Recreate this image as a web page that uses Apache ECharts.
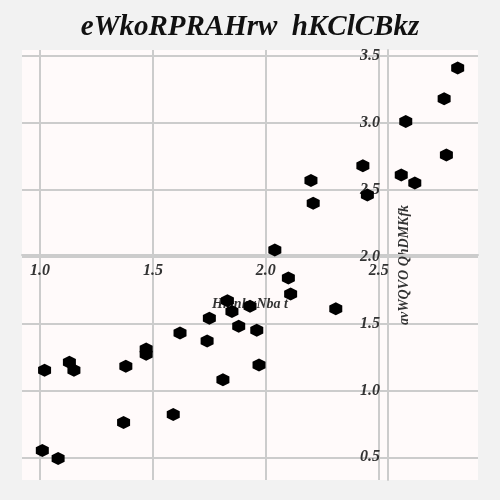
<!DOCTYPE html><html><head><meta charset="utf-8"><script src="https://cdn.jsdelivr.net/npm/echarts@6/dist/echarts.min.js"></script></head><body style="margin:0"><div id="c" style="width:500px;height:500px"></div><script>
const xs=[2.85,2.62,2.79,2.80,2.60,2.66,2.43,2.45,2.20,2.21,2.04,2.10,2.11,2.31,1.83,1.93,1.85,1.75,1.62,1.88,1.96,1.74,1.47,1.47,1.13,1.15,1.02,1.38,1.97,1.81,1.37,1.59,1.01,1.08];
const ys=[3.41,3.01,3.18,2.76,2.61,2.55,2.68,2.46,2.57,2.40,2.05,1.84,1.72,1.61,1.67,1.63,1.59,1.54,1.43,1.48,1.45,1.37,1.31,1.27,1.21,1.15,1.15,1.18,1.19,1.08,0.76,0.82,0.55,0.49];
const xTicks=[1.0,1.5,2.0,2.5], yTicks=[0.5,1.0,1.5,2.0,2.5,3.0,3.5];
const title="eWkoRPRAHrw  hKClCBkz", xName="HmnhxNba t", yName="avWQVO QhDMKfk";
const f={fontFamily:'Liberation Serif',fontWeight:'bold',fontStyle:'italic',color:'#333'};
const hex='path://M0,-1L0.866,-0.5L0.866,0.5L0,1L-0.866,0.5L-0.866,-0.5Z';
const ch=echarts.init(document.getElementById('c'));
ch.setOption({backgroundColor:'#f2f2f2',
title:{text:title,left:'center',top:8,textStyle:{...f,fontSize:29,color:'#111'}},
grid:{left:22,right:22,top:50,bottom:20,show:true,backgroundColor:'#fffafa',borderWidth:0,borderColor:'transparent'},
xAxis:{type:'value',min:0.92,max:2.94,position:'bottom',offset:-225,
 axisLine:{onZero:false,lineStyle:{color:'#ccc',width:2}},axisTick:{show:false,customValues:xTicks},
 axisLabel:{...f,fontSize:16,customValues:xTicks,formatter:v=>(+v).toFixed(1)},
 splitLine:{lineStyle:{color:'#ccc',width:2}},
 name:xName,nameLocation:'middle',nameGap:42,nameTextStyle:{...f,fontSize:14}},
yAxis:{type:'value',min:0.33,max:3.545,position:'right',offset:-90,
 axisLine:{show:true,onZero:false,lineStyle:{color:'#ccc',width:2}},axisTick:{show:false,customValues:yTicks},
 axisLabel:{...f,fontSize:16,inside:true,customValues:yTicks,formatter:v=>(+v).toFixed(1)},
 splitLine:{lineStyle:{color:'#ccc',width:2}},
 name:yName,nameLocation:'middle',nameGap:-50,nameRotate:90,nameTextStyle:{...f,fontSize:14}},
series:[{type:'scatter',symbol:hex,symbolSize:13,itemStyle:{color:'#000',opacity:1},data:xs.map((x,i)=>[x,ys[i]])}]});
</script></body></html>
